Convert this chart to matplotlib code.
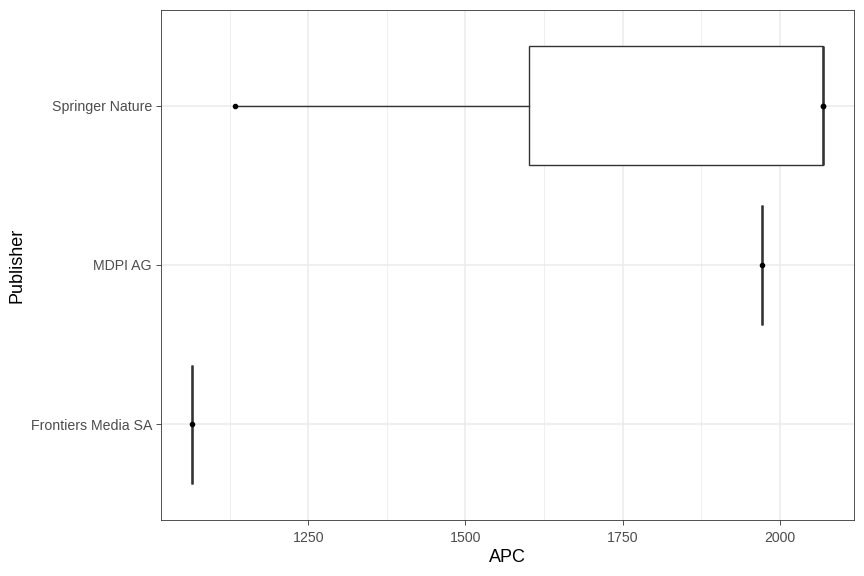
import matplotlib.pyplot as plt
import numpy as np

plt.rcParams['font.family'] = ['Liberation Sans', 'DejaVu Sans']

# APC values per publisher
publishers = ['Frontiers Media SA', 'MDPI AG', 'Springer Nature']
apc_frontiers = [1066]
apc_mdpi = [1971]
apc_springer = [1134, 2068, 2068]
apc_data = [apc_frontiers, apc_mdpi, apc_springer]
xticks = [1250, 1500, 1750, 2000]
xminor = [1125, 1375, 1625, 1875]

fig = plt.figure(figsize=(8.64, 5.76), dpi=100)
ax = fig.add_axes([161 / 864, 1 - 520 / 576, (854 - 161) / 864, (520 - 10) / 576])

pos = np.arange(1, len(publishers) + 1)
ax.boxplot(apc_data, positions=pos, vert=False, widths=0.75, whis=1.5,
           showcaps=False, patch_artist=True,
           boxprops=dict(facecolor='white', edgecolor='#333333', linewidth=1.0),
           medianprops=dict(color='#333333', linewidth=1.8),
           whiskerprops=dict(color='#333333', linewidth=1.0),
           flierprops=dict(marker='o', markersize=3, markerfacecolor='black',
                           markeredgecolor='none'),
           zorder=3)

for p, vals in zip(pos, apc_data):
    ax.scatter(vals, [p] * len(vals), s=9, color='black', zorder=5)

allv = np.concatenate([np.array(v, dtype=float) for v in apc_data])
lo, hi = allv.min(), allv.max()
pad = (hi - lo) * 0.05
ax.set_xlim(lo - pad, hi + pad)
ax.set_ylim(0.4, 3.6)

ax.set_xticks(xticks)
ax.set_xticks(xminor, minor=True)
ax.set_yticks(pos)
ax.set_yticklabels(publishers)

ax.grid(which='major', color='#EBEBEB', linewidth=1.1, zorder=0)
ax.grid(which='minor', axis='x', color='#EBEBEB', linewidth=0.55, zorder=0)
ax.set_axisbelow(True)

for s in ax.spines.values():
    s.set_color('#333333')
    s.set_linewidth(0.6)

ax.tick_params(which='major', length=3.5, width=0.6, color='#333333',
               labelsize=10.2, labelcolor='#4D4D4D', pad=3)
ax.tick_params(axis='x', which='major', pad=4.5)
ax.tick_params(which='minor', length=0)

ax.set_xlabel('APC', fontsize=13, color='black', labelpad=3)
ax.set_ylabel('Publisher', fontsize=13, color='black', labelpad=4)

fig.savefig('out.png', dpi=100)
